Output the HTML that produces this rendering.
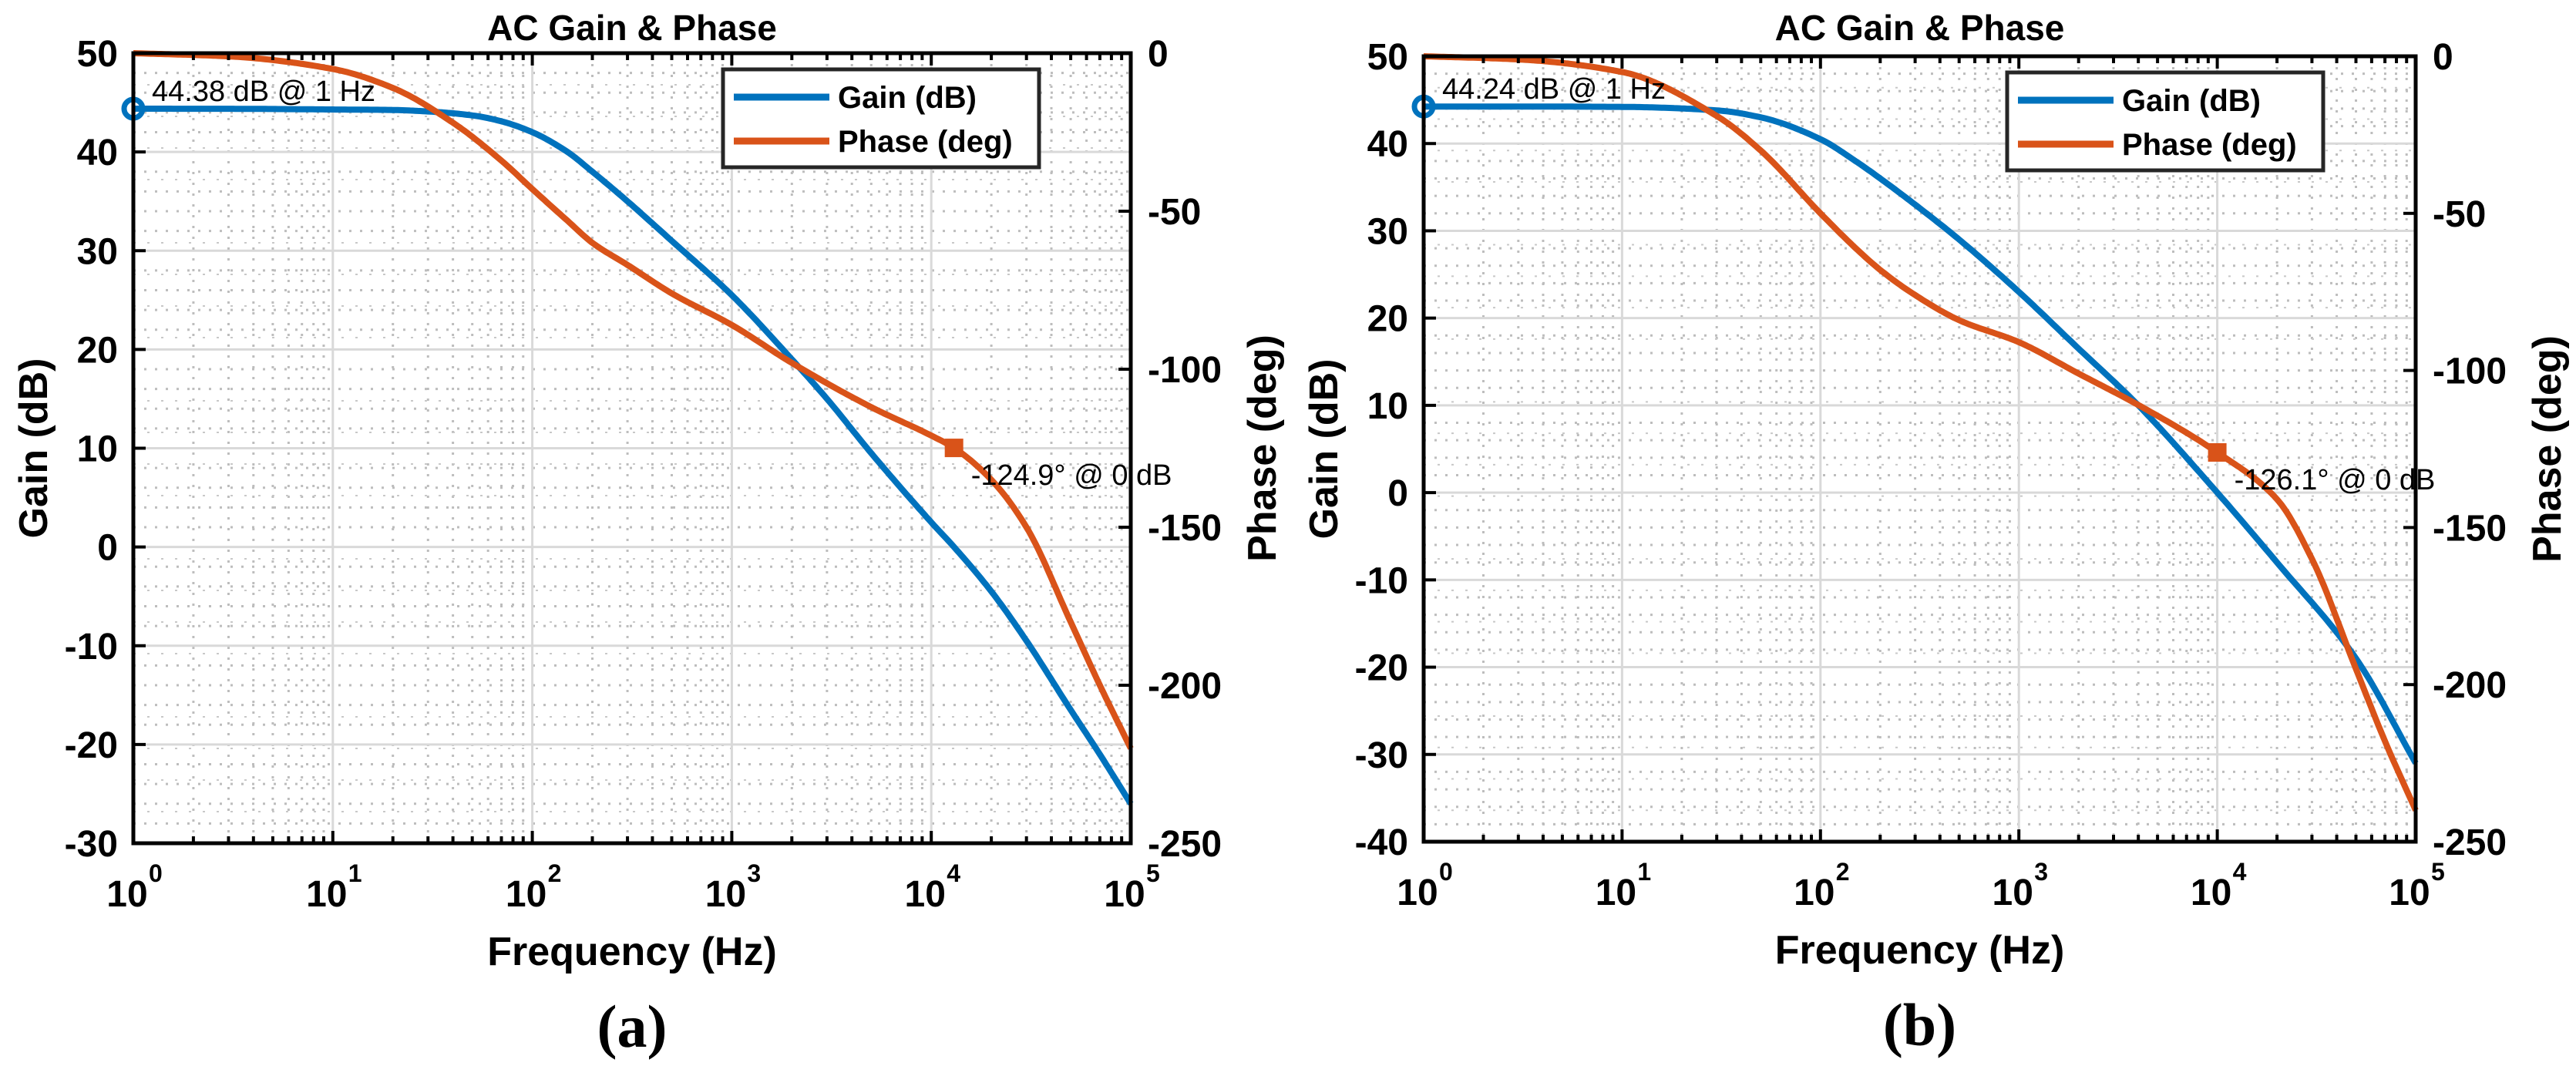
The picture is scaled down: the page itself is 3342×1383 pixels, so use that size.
<!DOCTYPE html>
<html><head><meta charset="utf-8"><style>
html,body{margin:0;padding:0;background:#fff;}
svg{display:block;font-family:"Liberation Sans",Arial,sans-serif;}
</style></head>
<body>
<svg id="fig" width="3342" height="1383" viewBox="0 0 3342 1383" xmlns="http://www.w3.org/2000/svg"></svg>
<script>
// ---- Panel (a) data ----
const freqA  = [1, 3, 10, 20, 30, 50, 70, 100, 150, 200, 300, 500, 1000, 2000, 3000, 5000, 10000, 13000, 20000, 30000, 50000, 70000, 100000];
const gainA  = [44.38, 44.37, 44.3, 44.25, 44.1, 43.7, 43.1, 42, 40, 38, 35, 31, 25.5, 19, 15, 9.5, 2.5, 0, -4.5, -9.5, -16.5, -21, -26];
const phaseFreqA = [1, 3, 10, 20, 40, 70, 100, 150, 200, 300, 500, 1000, 2000, 5000, 10000, 13000, 20000, 30000, 50000, 70000, 100000];
const phaseA = [0, -1, -5, -11, -22, -34, -43, -53, -60, -67, -76, -86, -98, -112, -121, -124.9, -135, -150, -180, -200, -220];
// ---- Panel (b) data ----
const freqB  = [1, 3, 10, 30, 50, 100, 150, 200, 300, 500, 1000, 2000, 4000, 10000, 20000, 50000, 100000];
const gainB  = [44.24, 44.24, 44.2, 43.8, 43, 40.5, 38, 36, 33, 29, 23, 16.5, 10, 0, -8, -19, -31];
const phaseFreqB = [1, 3, 10, 30, 50, 100, 150, 200, 300, 500, 1000, 2000, 4000, 10000, 20000, 30000, 50000, 70000, 100000];
const phaseB = [0, -1, -5, -19, -30, -50, -61, -68, -76, -84, -91, -101, -111, -126.1, -141, -160, -195, -218, -240];
// ---- ticks ----
const gainTicksA = [50, 40, 30, 20, 10, 0, -10, -20, -30];
const gainTicksB = [50, 40, 30, 20, 10, 0, -10, -20, -30, -40];
const phaseTicks = [0, -50, -100, -150, -200, -250];
const decadeExps = [0, 1, 2, 3, 4, 5];
const markerA = {f: 1, g: 44.38, pf: 13000, p: -124.9, gl: "44.38 dB @ 1 Hz", pl: "-124.9° @ 0 dB"};
const markerB = {f: 1, g: 44.24, pf: 10000, p: -126.1, gl: "44.24 dB @ 1 Hz", pl: "-126.1° @ 0 dB"};

const NS = "http://www.w3.org/2000/svg";
const svg = document.getElementById("fig");
function mk(tag, attrs, parent) {
  const e = document.createElementNS(NS, tag);
  for (const k in attrs) e.setAttribute(k, attrs[k]);
  (parent || svg).appendChild(e);
  return e;
}
// monotone cubic (Fritsch-Carlson) in log-frequency space
function monotone(xs, ys) {
  const n = xs.length, d = [], m = new Array(n);
  for (let i = 0; i < n - 1; i++) d.push((ys[i + 1] - ys[i]) / (xs[i + 1] - xs[i]));
  m[0] = d[0]; m[n - 1] = d[n - 2];
  for (let i = 1; i < n - 1; i++) {
    if (d[i - 1] * d[i] <= 0) m[i] = 0;
    else {
      const h0 = xs[i] - xs[i - 1], h1 = xs[i + 1] - xs[i];
      const w1 = 2 * h1 + h0, w2 = h1 + 2 * h0;
      m[i] = (w1 + w2) / (w1 / d[i - 1] + w2 / d[i]);
    }
  }
  return function (x) {
    let i = 0;
    while (i < n - 2 && x > xs[i + 1]) i++;
    const h = xs[i + 1] - xs[i], t = (x - xs[i]) / h;
    const t2 = t * t, t3 = t2 * t;
    return (2 * t3 - 3 * t2 + 1) * ys[i] + (t3 - 2 * t2 + t) * h * m[i] + (-2 * t3 + 3 * t2) * ys[i + 1] + (t3 - t2) * h * m[i + 1];
  };
}
function curvePath(freqs, vals, xf, yf) {
  const lx = freqs.map(f => Math.log10(f));
  const fn = monotone(lx, vals);
  let d = "";
  const N = 400;
  for (let k = 0; k <= N; k++) {
    const l = lx[0] + (lx[lx.length - 1] - lx[0]) * k / N;
    const px = xf(Math.pow(10, l)), py = yf(fn(l));
    d += (k ? " L" : "M") + px.toFixed(1) + "," + py.toFixed(1);
  }
  return d;
}

function panel(cfg) {
  const g = mk("g", {});
  
  
  const L = cfg.L, R = cfg.R, T = cfg.T, B = cfg.B;
  const x = f => L + (Math.log10(f) / 5) * (R - L);
  const yG = v => T + (cfg.gmax - v) / (cfg.gmax - cfg.gmin) * (B - T);
  const yP = v => T + (0 - v) / 250 * (B - T);
  mk("rect", {x: L, y: T, width: R - L, height: B - T, fill: "#fff"}, g);
  const grid = mk("g", {}, g);
  
  
  for (let d = 0; d < 5; d++) for (let m = 2; m <= 9; m++) {
    const xx = x(m * Math.pow(10, d));
    mk("line", {x1: xx, x2: xx, y1: T, y2: B, stroke: "#bdbdbd", "stroke-width": 3, "stroke-dasharray": "3 11"}, grid);
  }
  for (let v = cfg.gmin + 2; v < cfg.gmax; v += 2) {
    if (v % 10 === 0) continue;
    mk("line", {x1: L, x2: R, y1: yG(v), y2: yG(v), stroke: "#bdbdbd", "stroke-width": 3, "stroke-dasharray": "3 11"}, grid);
  }
  for (let v = -10; v > -250; v -= 10) {
    if (v % 50 === 0) continue;
    mk("line", {x1: L, x2: R, y1: yP(v), y2: yP(v), stroke: "#c8c8c8", "stroke-width": 2, "stroke-dasharray": "3 15"}, grid);
  }
  decadeExps.forEach(e => { const xx = x(Math.pow(10, e)); mk("line", {x1: xx, x2: xx, y1: T, y2: B, stroke: "#d9d9d9", "stroke-width": 3}, grid); });
  cfg.gt.forEach(v => mk("line", {x1: L, x2: R, y1: yG(v), y2: yG(v), stroke: "#d9d9d9", "stroke-width": 3}, grid));
  const gp = mk("path", {d: curvePath(cfg.gf, cfg.gv, x, yG), fill: "none", stroke: "#0072bd", "stroke-width": 8, "stroke-linejoin": "round"}, g);
  
  
  const pp = mk("path", {d: curvePath(cfg.pf, cfg.pv, x, yP), fill: "none", stroke: "#d95319", "stroke-width": 8, "stroke-linejoin": "round"}, g);
  
  
  const mc = mk("circle", {cx: x(cfg.mk.f), cy: yG(cfg.mk.g), r: 12, fill: "none", stroke: "#0072bd", "stroke-width": 7}, g);
  
  
  const ms = mk("rect", {x: x(cfg.mk.pf) - 12, y: yP(cfg.mk.p) - 12, width: 24, height: 24, fill: "#d95319"}, g);
  
  
  const t1 = mk("text", {x: x(cfg.mk.f) + 24, y: yG(cfg.mk.g) - 10, "font-size": 38, fill: "#000"}, g);
  t1.textContent = cfg.mk.gl;
  
  
  const t2 = mk("text", {x: x(cfg.mk.pf) + 22, y: yP(cfg.mk.p) + 48, "font-size": 38, fill: "#000"}, g);
  t2.textContent = cfg.mk.pl;
  
  
  const box = mk("rect", {x: L, y: T, width: R - L, height: B - T, fill: "none", stroke: "#000", "stroke-width": 5}, g);
  
  
  for (let d = 0; d <= 5; d++) {
    const xx = x(Math.pow(10, d));
    mk("line", {x1: xx, x2: xx, y1: B, y2: B - 16, stroke: "#000", "stroke-width": 4}, g);
    mk("line", {x1: xx, x2: xx, y1: T, y2: T + 16, stroke: "#000", "stroke-width": 4}, g);
    const lbl = mk("text", {x: xx - 8, y: B + 82, "font-size": 48, "font-weight": "bold", "text-anchor": "middle"}, g);
    lbl.textContent = "10";
    
    
    const ex = mk("text", {x: xx + 20, y: B + 50, "font-size": 32, "font-weight": "bold"}, g);
    ex.textContent = decadeExps[d];
    if (d < 5) for (let m = 2; m <= 9; m++) {
      const xm = x(m * Math.pow(10, d));
      mk("line", {x1: xm, x2: xm, y1: B, y2: B - 9, stroke: "#000", "stroke-width": 4}, g);
      mk("line", {x1: xm, x2: xm, y1: T, y2: T + 9, stroke: "#000", "stroke-width": 4}, g);
    }
  }
  cfg.gt.forEach(v => {
    mk("line", {x1: L, x2: L + 16, y1: yG(v), y2: yG(v), stroke: "#000", "stroke-width": 4}, g);
    const t = mk("text", {x: L - 20, y: yG(v) + 17, "font-size": 48, "font-weight": "bold", "text-anchor": "end"}, g);
    t.textContent = v;
    
    
  });
  phaseTicks.forEach(v => {
    mk("line", {x1: R - 16, x2: R, y1: yP(v), y2: yP(v), stroke: "#000", "stroke-width": 4}, g);
    const t = mk("text", {x: R + 22, y: yP(v) + 17, "font-size": 48, "font-weight": "bold"}, g);
    t.textContent = v;
    
    
  });
  const cx = (L + R) / 2;
  const title = mk("text", {x: cx, y: 52, "font-size": 46, "font-weight": "bold", "text-anchor": "middle"}, g);
  title.textContent = "AC Gain & Phase";
  
  
  const xl = mk("text", {x: cx, y: B + 158, "font-size": 52, "font-weight": "bold", "text-anchor": "middle"}, g);
  xl.textContent = "Frequency (Hz)";
  
  
  const yl = mk("text", {x: 0, y: 0, "font-size": 52, "font-weight": "bold", "text-anchor": "middle", transform: "translate(" + (L - 112) + "," + ((T + B) / 2) + ") rotate(-90)"}, g);
  yl.textContent = "Gain (dB)";
  
  
  const yr = mk("text", {x: 0, y: 0, "font-size": 52, "font-weight": "bold", "text-anchor": "middle", transform: "translate(" + (R + 188) + "," + ((T + B) / 2) + ") rotate(-90)"}, g);
  yr.textContent = "Phase (deg)";
  
  
  const cap = mk("text", {x: cx, y: B + 264, "font-size": 78, "font-weight": "bold", "text-anchor": "middle", "font-family": "Liberation Serif, serif"}, g);
  cap.textContent = cfg.cap;
  
  
  const lg = mk("g", {}, g);
  
  
  const lx = cfg.lx, ly = cfg.ly;
  mk("rect", {x: lx, y: ly, width: 410, height: 127, fill: "#fff", stroke: "#262626", "stroke-width": 5}, lg);
  mk("line", {x1: lx + 14, x2: lx + 138, y1: ly + 36, y2: ly + 36, stroke: "#0072bd", "stroke-width": 9}, lg);
  mk("line", {x1: lx + 14, x2: lx + 138, y1: ly + 93, y2: ly + 93, stroke: "#d95319", "stroke-width": 9}, lg);
  const le1 = mk("text", {x: lx + 149, y: ly + 50, "font-size": 40, "font-weight": "bold"}, lg);
  le1.textContent = "Gain (dB)";
  
  
  const le2 = mk("text", {x: lx + 149, y: ly + 107, "font-size": 40, "font-weight": "bold"}, lg);
  le2.textContent = "Phase (deg)";
  
  
}

panel({name: "panel-a", L: 173, R: 1467, T: 69, B: 1094, gmax: 50, gmin: -30, gt: gainTicksA,
  gf: freqA, gv: gainA, pf: phaseFreqA, pv: phaseA, mk: markerA, cap: "(a)", lx: 938, ly: 90});
panel({name: "panel-b", L: 1847, R: 3134, T: 73, B: 1092, gmax: 50, gmin: -40, gt: gainTicksB,
  gf: freqB, gv: gainB, pf: phaseFreqB, pv: phaseB, mk: markerB, cap: "(b)", lx: 2604, ly: 94});
</script>
</body></html>
